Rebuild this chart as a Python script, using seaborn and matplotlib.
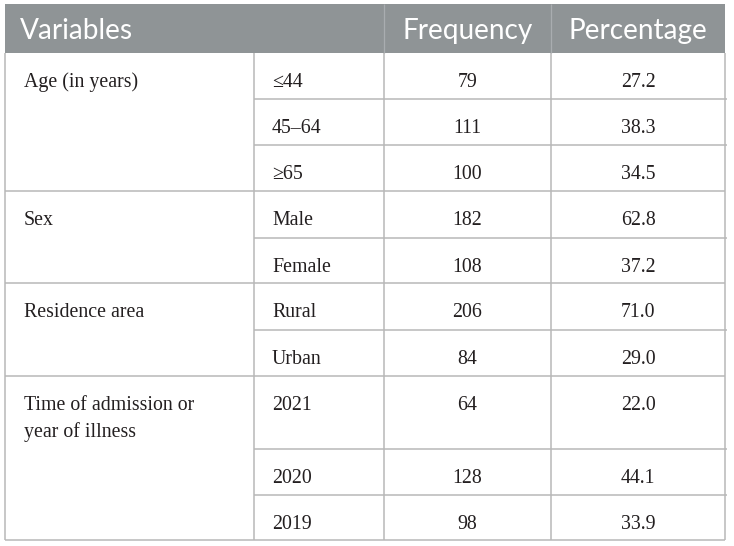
import matplotlib
matplotlib.use("Agg")
import matplotlib.pyplot as plt
import seaborn as sns

# table content
header = ["Variables", "Frequency", "Percentage"]
variables = [["Age (in years)"], ["Sex"], ["Residence area"],
             ["Time of admission or", "year of illness"]]
group_sizes = [3, 2, 2, 3]
categories = ["\u226444", "45\u201364", "\u226565", "Male", "Female",
              "Rural", "Urban", "2021", "2020", "2019"]
frequency = [79, 111, 100, 182, 108, 206, 84, 64, 128, 98]
percentage = [27.2, 38.3, 34.5, 62.8, 37.2, 71.0, 29.0, 22.0, 44.1, 33.9]

sns.set_theme(style="white")
plt.rcParams["font.family"] = ["Liberation Serif", "DejaVu Serif"]

# layout in pixels
W, H = 734, 546
x_left, x_c1, x_c2, x_c3, x_right = 5, 254, 384, 551, 725
y_top, y_head = 4, 53
row_h = [46, 46, 46, 47, 45, 47, 46, 73, 46, 45]
header_col = "#8f9496"
line_col = "#b8b8b8"
text_col = "#231f20"

fig = plt.figure(figsize=(W / 100, H / 100), dpi=100)
ax = fig.add_axes([0, 0, 1, 1])
ax.set_xlim(0, W)
ax.set_ylim(H, 0)
ax.axis("off")

# header band
ax.fill_between([x_left, x_right], y_top, y_head, color=header_col, lw=0)
ax.vlines([x_c2, x_c3], y_top, y_head, color="#a9adb0", lw=0.9)
hfont = dict(family="Lato", fontsize=20.2, color="white", va="baseline")
ax.text(x_left + 15, y_head - 14, header[0], ha="left", **hfont)
ax.text((x_c2 + x_c3) / 2, y_head - 14, header[1], ha="center", **hfont)
ax.text((x_c3 + x_right) / 2, y_head - 14, header[2], ha="center", **hfont)

# row bounds
bounds = [y_head]
for h in row_h:
    bounds.append(bounds[-1] + h)
y_bottom = bounds[-1]

# outer border and column lines
ax.vlines([x_left, x_c1, x_c2, x_c3, x_right], y_head, y_bottom,
          color=line_col, lw=1.1)
ax.hlines(y_bottom, x_left, x_right, color=line_col, lw=1.1)

body = dict(fontsize=14.3, color=text_col, va="baseline")
i = 0
for var, n in zip(variables, group_sizes):
    top = bounds[i]
    for j, line in enumerate(var):
        ax.text(x_left + 19, top + 34 + 27 * j, line, ha="left", **body)
    for k in range(n):
        r = i + k
        base = bounds[r] + 34
        ax.text(x_c1 + 18, base, categories[r], ha="left", **body)
        ax.text((x_c2 + x_c3) / 2, base, str(frequency[r]), ha="center", **body)
        ax.text((x_c3 + x_right) / 2, base, f"{percentage[r]:.1f}", ha="center", **body)
        if k > 0:
            ax.hlines(bounds[r], x_c1, x_right + 2, color=line_col, lw=1.1)
    if i > 0:
        ax.hlines(top, x_left, x_right, color=line_col, lw=1.1)
    i += n

fig.savefig("out.png", dpi=100)
